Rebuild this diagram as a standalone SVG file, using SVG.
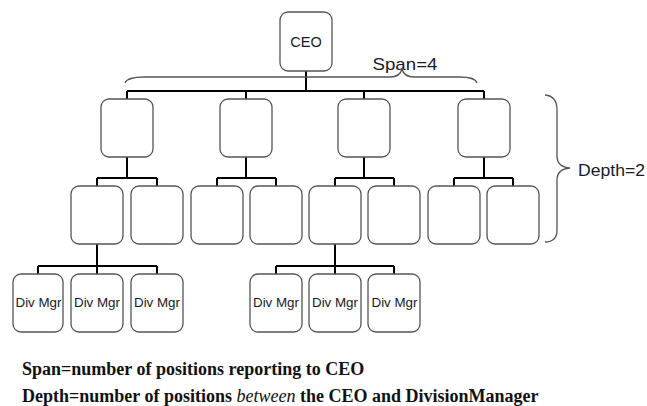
<svg xmlns="http://www.w3.org/2000/svg" width="647" height="406" viewBox="0 0 647 406">
<style>
.box{fill:#fff;stroke:#555;stroke-width:1.3}
.con{fill:none;stroke:#000;stroke-width:2}
.brace{fill:none;stroke:#555;stroke-width:1.3}
.lbl{font-family:"Liberation Sans",Arial,sans-serif;fill:#1a1a2a;text-anchor:middle}
.dm{font-size:13px}
.note{font-family:"Liberation Serif","Times New Roman",serif;font-weight:bold;font-size:18px;fill:#111}
</style>
<rect width="647" height="406" fill="#fff"/>
<g id="connectors">
<path class="con" d="M306,71V91M127,91H484M127,91V99M246,91V99M364,91V99M484,91V99"/>
<path class="con" d="M127,157V178M97,178H157M97,178V186M157,178V186"/>
<path class="con" d="M246,157V178M217,178H276M217,178V186M276,178V186"/>
<path class="con" d="M364,157V178M335,178H394M335,178V186M394,178V186"/>
<path class="con" d="M484,157V178M454,178H513M454,178V186M513,178V186"/>
<path class="con" d="M97,244V266M38,266H157M38,266V274M157,266V274M97,266V274"/>
<path class="con" d="M335,244V266M276,266H394M276,266V274M394,266V274M335,266V274"/>
</g>
<g id="ceo"><rect class="box" x="280" y="12" width="52" height="59" rx="8"/><text class="lbl" x="306" y="47" font-size="14.5">CEO</text></g>
<g id="l1-1"><rect class="box" x="101" y="99" width="52" height="58" rx="8"/></g>
<g id="l1-2"><rect class="box" x="220" y="99" width="52" height="58" rx="8"/></g>
<g id="l1-3"><rect class="box" x="338" y="99" width="52" height="58" rx="8"/></g>
<g id="l1-4"><rect class="box" x="458" y="99" width="52" height="58" rx="8"/></g>
<g id="l2-1"><rect class="box" x="71" y="186" width="52" height="58" rx="8"/></g>
<g id="l2-2"><rect class="box" x="131" y="186" width="52" height="58" rx="8"/></g>
<g id="l2-3"><rect class="box" x="191" y="186" width="52" height="58" rx="8"/></g>
<g id="l2-4"><rect class="box" x="250" y="186" width="52" height="58" rx="8"/></g>
<g id="l2-5"><rect class="box" x="309" y="186" width="52" height="58" rx="8"/></g>
<g id="l2-6"><rect class="box" x="368" y="186" width="52" height="58" rx="8"/></g>
<g id="l2-7"><rect class="box" x="428" y="186" width="52" height="58" rx="8"/></g>
<g id="l2-8"><rect class="box" x="487" y="186" width="52" height="58" rx="8"/></g>
<g id="dm-1"><rect class="box" x="13" y="274" width="50" height="58" rx="8"/><text class="lbl dm" x="38.5" y="307" textLength="46" lengthAdjust="spacingAndGlyphs">Div Mgr</text></g>
<g id="dm-2"><rect class="box" x="71" y="274" width="52" height="58" rx="8"/><text class="lbl dm" x="97" y="307" textLength="46" lengthAdjust="spacingAndGlyphs">Div Mgr</text></g>
<g id="dm-3"><rect class="box" x="131" y="274" width="52" height="58" rx="8"/><text class="lbl dm" x="157" y="307" textLength="46" lengthAdjust="spacingAndGlyphs">Div Mgr</text></g>
<g id="dm-4"><rect class="box" x="250" y="274" width="52" height="58" rx="8"/><text class="lbl dm" x="276" y="307" textLength="46" lengthAdjust="spacingAndGlyphs">Div Mgr</text></g>
<g id="dm-5"><rect class="box" x="309" y="274" width="52" height="58" rx="8"/><text class="lbl dm" x="335" y="307" textLength="46" lengthAdjust="spacingAndGlyphs">Div Mgr</text></g>
<g id="dm-6"><rect class="box" x="368" y="274" width="52" height="58" rx="8"/><text class="lbl dm" x="394.5" y="307" textLength="46" lengthAdjust="spacingAndGlyphs">Div Mgr</text></g>
<g id="span">
<path class="brace" d="M125,83Q127,77 145,77L390,77Q400,77 402,69Q404,77 414,77L460,77Q475,77 477,83"/>
<text class="lbl" x="405" y="70" font-size="17" textLength="65" lengthAdjust="spacingAndGlyphs">Span=4</text>
</g>
<g id="depth">
<path class="brace" d="M545,95Q557,96 557,110L557,156Q557,167 570,168Q557,169 557,180L557,230Q557,242 545,242"/>
<text class="lbl" x="611.5" y="176" font-size="17" textLength="67" lengthAdjust="spacingAndGlyphs">Depth=2</text>
</g>
<g id="notes">
<text class="note" x="22" y="375">Span=number of positions reporting to CEO</text>
<text class="note" x="22" y="402">Depth=number of positions <tspan font-style="italic" font-weight="normal">between</tspan> the CEO and DivisionManager</text>
</g>
</svg>
